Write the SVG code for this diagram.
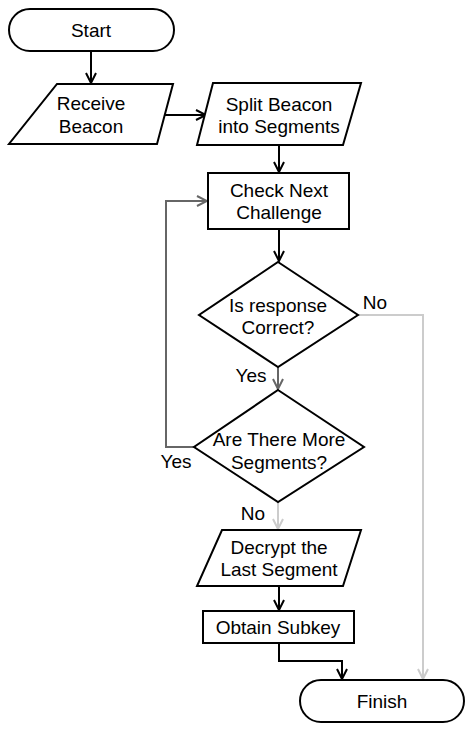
<svg xmlns="http://www.w3.org/2000/svg" width="474" height="731" viewBox="0 0 474 731">
<defs>
<style>
.n{fill:#fff;stroke:#000;stroke-width:2}
.t{font-family:"Liberation Sans",Arial,sans-serif;font-size:19px;fill:#000;text-anchor:middle}
.c{fill:none;stroke-width:2}
</style>
<marker id="ab" viewBox="0 0 12 12" refX="11" refY="6" markerWidth="12" markerHeight="12" markerUnits="userSpaceOnUse" orient="auto"><path d="M1,1 L11,6 L1,11" fill="none" stroke="#000" stroke-width="2"/></marker>
<marker id="ag" viewBox="0 0 12 12" refX="11" refY="6" markerWidth="12" markerHeight="12" markerUnits="userSpaceOnUse" orient="auto"><path d="M1,1 L11,6 L1,11" fill="none" stroke="#666" stroke-width="2"/></marker>
<marker id="al" viewBox="0 0 12 12" refX="11" refY="6" markerWidth="12" markerHeight="12" markerUnits="userSpaceOnUse" orient="auto"><path d="M1,1 L11,6 L1,11" fill="none" stroke="#ccc" stroke-width="2"/></marker>
</defs>
<rect width="474" height="731" fill="#fff"/>
<g id="connectors">
<path class="c" stroke="#000" marker-end="url(#ab)" d="M91,51 V83"/>
<path class="c" stroke="#000" marker-end="url(#ab)" d="M163,115 H206"/>
<path class="c" stroke="#000" marker-end="url(#ab)" d="M279,145 V172"/>
<path class="c" stroke="#000" marker-end="url(#ab)" d="M279,229 V261"/>
<path class="c" stroke="#666" marker-end="url(#ag)" d="M278,367 V389"/>
<path class="c" stroke="#666" marker-end="url(#ag)" d="M194,447 H166 V201 H207"/>
<path class="c" stroke="#ccc" marker-end="url(#al)" d="M358,315 H423 V679"/>
<path class="c" stroke="#ccc" marker-end="url(#al)" d="M278,502 V529"/>
<path class="c" stroke="#000" marker-end="url(#ab)" d="M279,586 V610"/>
<path class="c" stroke="#000" marker-end="url(#ab)" d="M279,643 V661 H342 V679"/>
<text class="t" x="375" y="309">No</text>
<text class="t" x="251" y="382">Yes</text>
<text class="t" x="176" y="468">Yes</text>
<text class="t" x="253" y="520">No</text>
</g>
<g id="start"><rect class="n" x="9" y="9" width="165" height="42" rx="21"/><text class="t" x="91" y="37">Start</text></g>
<g id="receive"><polygon class="n" points="57,84 173,84 157,144 9,144"/><text class="t" x="91" y="110">Receive</text><text class="t" x="91" y="133">Beacon</text></g>
<g id="split"><polygon class="n" points="213,83 361,83 343,145 197,145"/><text class="t" x="279" y="111">Split Beacon</text><text class="t" x="279" y="133">into Segments</text></g>
<g id="check"><rect class="n" x="208" y="173" width="141" height="56"/><text class="t" x="279" y="197">Check Next</text><text class="t" x="279" y="219">Challenge</text></g>
<g id="correct"><polygon class="n" points="278,262 358,315 278,367 199,315"/><text class="t" x="278" y="312">Is response</text><text class="t" x="278" y="334">Correct?</text></g>
<g id="more"><polygon class="n" points="278,390 364,447 278,502 194,447"/><text class="t" x="279" y="446">Are There More</text><text class="t" x="279" y="469">Segments?</text></g>
<g id="decrypt"><polygon class="n" points="222,530 361,530 343,586 197,586"/><text class="t" x="279" y="554">Decrypt the</text><text class="t" x="279" y="576">Last Segment</text></g>
<g id="subkey"><rect class="n" x="203" y="611" width="151" height="32"/><text class="t" x="278" y="634">Obtain Subkey</text></g>
<g id="finish"><rect class="n" x="300" y="680" width="164" height="42" rx="21"/><text class="t" x="382" y="708">Finish</text></g>
</svg>
